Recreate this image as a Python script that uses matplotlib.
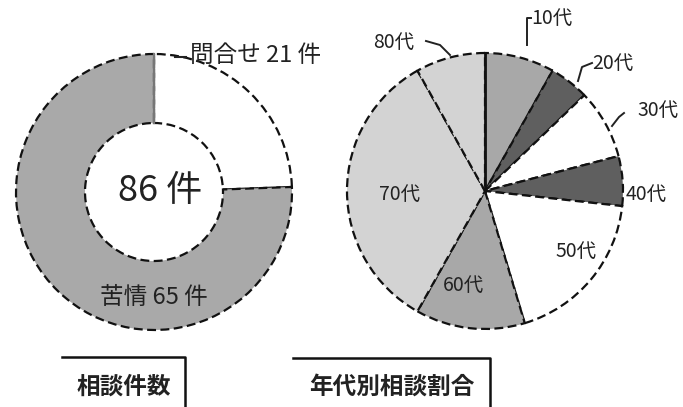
import matplotlib.pyplot as plt

plt.rcParams['font.family'] = ['Noto Sans CJK JP', 'DejaVu Sans']

# left donut: number of consultations
kinds = ['問合せ', '苦情']
kind_counts = [21, 65]
kind_colors = ['white', '#a9a9a9']
total = sum(kind_counts)

# right pie: share by age group
ages = ['10代', '20代', '30代', '40代', '50代', '60代', '70代', '80代']
age_counts = [7, 4, 7, 5, 16, 11, 29, 7]
age_colors = ['#a8a8a8', '#5f5f5f', 'white', '#5f5f5f', 'white', '#a8a8a8', '#d3d3d3', '#d3d3d3']

titles = ['相談件数', '年代別相談割合']

W, H = 683, 407
fig = plt.figure(figsize=(W / 100, H / 100), dpi=100)
ax = fig.add_axes([0, 0, 1, 1])

edge = dict(edgecolor='#111111', linewidth=1.6, linestyle=(0, (4, 2)))
tc = '#222222'

# donut
ax.pie(kind_counts, colors=kind_colors, startangle=90, counterclock=False,
       center=(154, 215), radius=138, wedgeprops=dict(width=69, **edge))

# age pie
ax.pie(age_counts, colors=age_colors, startangle=90, counterclock=False,
       center=(485, 216), radius=138, wedgeprops=edge)

# pie() resets the limits, so set them afterwards
ax.set_xlim(0, W)
ax.set_ylim(0, H)
ax.set_aspect('equal')
ax.axis('off')

ax.plot([154, 154], [284, 353], color='#777777', lw=1.6)
ax.text(160, 216, f'{total} 件', fontsize=26, ha='center', va='center', color=tc)
ax.text(190, 352, f'{kinds[0]} {kind_counts[0]} 件', fontsize=17, ha='left', va='center', color=tc)
ax.plot([175, 186], [350, 350], color=tc, lw=1.5)
ax.text(154, 110, f'{kinds[1]} {kind_counts[1]} 件', fontsize=17, ha='center', va='center', color=tc)

ax.plot([485, 485], [216, 354], color='#111111', lw=2)

lf = 14
ax.text(531, 389, ages[0], fontsize=lf, ha='left', va='center', color=tc)
ax.plot([527, 527, 531], [362, 389, 389], color=tc, lw=1.4)
ax.text(592, 344, ages[1], fontsize=lf, ha='left', va='center', color=tc)
ax.plot([578, 582, 592], [326, 340, 344], color=tc, lw=1.4)
ax.text(637, 297, ages[2], fontsize=lf, ha='left', va='center', color=tc)
ax.plot([612, 619, 624], [281, 290, 294], color=tc, lw=1.4)
ax.text(626, 213, ages[3], fontsize=lf, ha='left', va='center', color=tc)
ax.text(576, 156, ages[4], fontsize=lf, ha='center', va='center', color=tc)
ax.text(463, 122, ages[5], fontsize=lf, ha='center', va='center', color=tc)
ax.text(400, 213, ages[6], fontsize=lf, ha='center', va='center', color=tc)
ax.text(373, 365, ages[7], fontsize=lf, ha='left', va='center', color=tc)
ax.plot([426, 440, 450], [366, 362, 352], color=tc, lw=1.4)

# title boxes (top and right sides visible)
ax.plot([62, 185, 185], [50, 50, 0], color='#111111', lw=1.8)
ax.text(124, 20, titles[0], fontsize=17, fontweight='bold', ha='center', va='center', color=tc)
ax.plot([293, 490, 490], [49, 49, 0], color='#111111', lw=1.8)
ax.text(392, 20, titles[1], fontsize=17, fontweight='bold', ha='center', va='center', color=tc)

fig.savefig('out.png', dpi=100)
